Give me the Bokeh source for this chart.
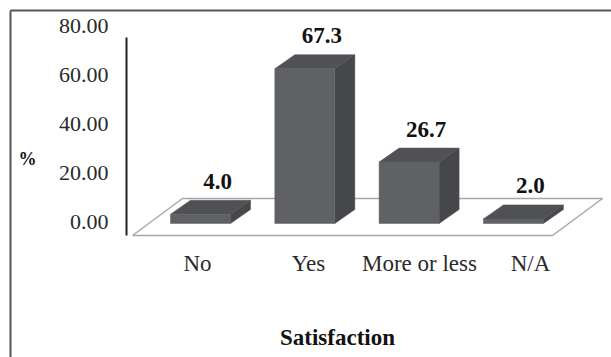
from bokeh.plotting import figure
from bokeh.models import (Range1d, LinearAxis, FixedTicker, NumeralTickFormatter,
                          ColumnDataSource)
from bokeh.core.properties import value
from bokeh.embed import file_html
from bokeh.resources import INLINE

# ---- data ----
categories = ["No", "Yes", "More or less", "N/A"]
percent = [4.0, 67.3, 26.7, 2.0]
y_ticks = [0, 20, 40, 60, 80]
x_title = "Satisfaction"
y_title = "%"

# ---- style constants (pixel layout of the page) ----
FONT = "Liberation Serif"
FRONT = "#606164"
SIDE = "#46474a"
TOP = "#505154"
W, H = 611, 357
PX_X = 104.3                     # px per category step (bars)
PX_Y = 2.3                       # px per percent (bars)
X0 = 200                         # px of first bar centre
Y0 = 223                         # px of bar base
HALF = 30 / PX_X                 # half bar width in x units
DX = 20 / PX_X                   # depth offset x
DY = 14 / PX_Y                   # depth offset y


def ux(px):   # page px -> x data units
    return (px - X0) / PX_X


def uy(py):   # page px -> y data units
    return (Y0 - py) / PX_Y


p = figure(width=W, height=H, output_backend="svg", toolbar_location=None,
           x_range=Range1d(ux(0), ux(W)), y_range=Range1d(uy(H), uy(0)),
           min_border=0, x_axis_location=None, y_axis_location=None)
p.grid.visible = False
p.outline_line_color = None
p.background_fill_color = "white"
p.border_fill_color = "white"

# ---- tick axis (own scale, as the original's back wall) ----
AX_PX = 2.45
p.extra_y_ranges = {"ax": Range1d(-(H - 221) / AX_PX, 80 + 25 / AX_PX)}
yax = LinearAxis(y_range_name="ax", ticker=FixedTicker(ticks=y_ticks),
                 formatter=NumeralTickFormatter(format="0.00"),
                 fixed_location=ux(112))
yax.axis_line_color = None
yax.major_tick_line_color = None
yax.minor_tick_line_color = None
yax.major_tick_out = 0
yax.major_tick_in = 0
yax.major_label_standoff = 4
yax.major_label_text_font = FONT
yax.major_label_text_font_size = "22px"
yax.major_label_text_color = "#2a2a2a"
p.add_layout(yax, "left")

# ---- category axis ----
CPX = 111
p.extra_x_ranges = {"cat": Range1d(-197 / CPX, (W - 197) / CPX)}
xax = LinearAxis(x_range_name="cat",
                 ticker=FixedTicker(ticks=list(range(len(categories)))),
                 major_label_overrides={i: c for i, c in enumerate(categories)},
                 fixed_location=uy(248))
xax.axis_line_color = None
xax.major_tick_line_color = None
xax.minor_tick_line_color = None
xax.major_tick_out = 0
xax.major_tick_in = 0
xax.major_label_standoff = 2
xax.major_label_text_font = FONT
xax.major_label_text_font_size = "23px"
xax.major_label_text_color = "#2a2a2a"
p.add_layout(xax, "below")

# ---- outer border (left and top edges) ----
p.segment(x0=[ux(10), ux(10)], y0=[uy(10), uy(10)], x1=[ux(10), ux(W + 5)],
          y1=[uy(H + 5), uy(10)], line_color="#555555", line_width=2)

# ---- floor ----
n = len(categories)
fx0, fx1 = ux(132), ux(552)
fy_front, fy_back = uy(235), uy(198)
fdx = 50 / PX_X
p.patch([fx0, fx1, fx1 + fdx, fx0 + fdx], [fy_front, fy_front, fy_back, fy_back],
        fill_color="white", line_color="#a8a8a8", line_width=1.5)

# ---- vertical axis line ----
p.segment(x0=[ux(126)], y0=[fy_front], x1=[ux(126)], y1=[uy(37)],
          line_color="#222222", line_width=2)

# ---- 3D bars ----
fx, fy, sx, sy, tx, ty = [], [], [], [], [], []
for i, v in enumerate(percent):
    l, r = i - HALF, i + HALF
    fx.append([l, r, r, l]); fy.append([0, 0, v, v])
    sx.append([r, r + DX, r + DX, r]); sy.append([0, DY, v + DY, v])
    tx.append([l, r, r + DX, l + DX]); ty.append([v, v, v + DY, v + DY])
p.patches(sx, sy, fill_color=SIDE, line_color=SIDE, line_width=0.5)
p.patches(tx, ty, fill_color=TOP, line_color=TOP, line_width=0.5)
p.patches(fx, fy, fill_color=FRONT, line_color=FRONT, line_width=0.5)

# ---- value labels ----
src = ColumnDataSource(dict(x=[i + 17 / PX_X for i in range(n)],
                            y=[v + DY + 19 / PX_Y for v in percent],
                            t=[f"{v:.1f}" for v in percent]))
p.text(x="x", y="y", text="t", source=src, text_font=value(FONT),
       text_font_size="23px", text_font_style="bold", text_align="center",
       text_baseline="middle", text_color="#111111")

# ---- axis titles ----
p.text(x=[ux(27)], y=[uy(158)], text=[y_title], text_font=value(FONT),
       text_font_size="18px", text_font_style="bold", text_align="center",
       text_baseline="middle", text_color="#111111")
p.text(x=[ux(337)], y=[uy(337)], text=[x_title], text_font=value(FONT),
       text_font_size="23px", text_font_style="bold", text_align="center",
       text_baseline="middle", text_color="#111111")

open("out.html", "w").write(file_html(p, INLINE))
